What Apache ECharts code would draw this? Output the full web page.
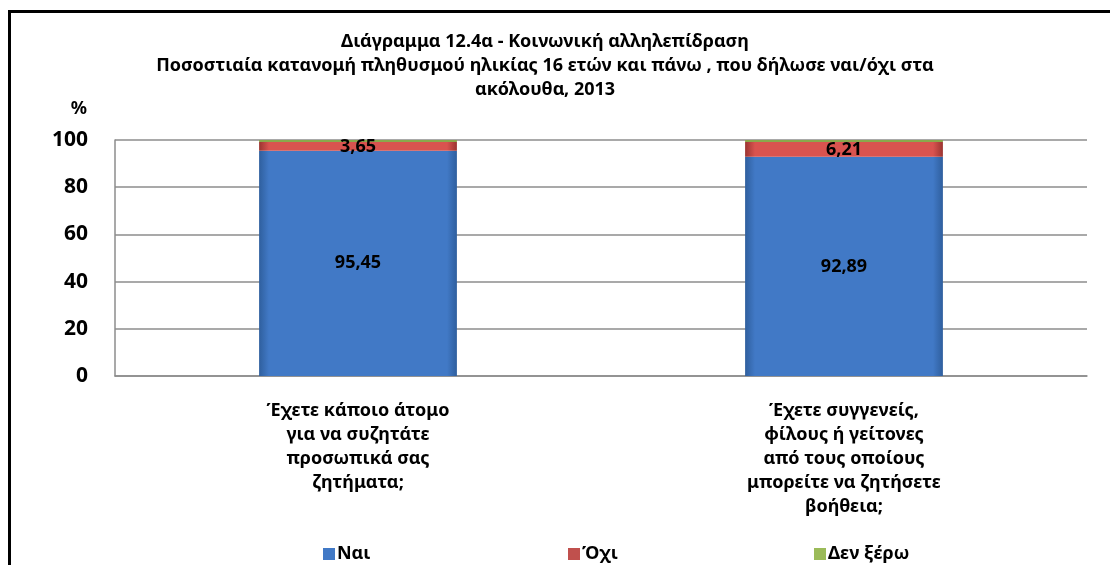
<!DOCTYPE html>
<html>
<head>
<meta charset="utf-8">
<script src="https://cdn.jsdelivr.net/npm/echarts@6/dist/echarts.min.js"></script>
<style>html,body{margin:0;padding:0;background:#fff}#c{width:1110px;height:565px}</style>
</head>
<body>
<div id="c"></div>
<script>
const titleText = 'Διάγραμμα 12.4α - Κοινωνική αλληλεπίδραση\nΠοσοστιαία κατανομή πληθυσμού ηλικίας 16 ετών και πάνω , που δήλωσε ναι/όχι στα\nακόλουθα, 2013';
const categories = [
  'Έχετε κάποιο άτομο\nγια να συζητάτε\nπροσωπικά σας\nζητήματα;',
  'Έχετε συγγενείς,\nφίλους ή γείτονες\nαπό τους οποίους\nμπορείτε να ζητήσετε\nβοήθεια;'
];
const seriesNames = ['Ναι', 'Όχι', 'Δεν ξέρω'];
const yesValues = [95.45, 92.89];
const noValues = [3.65, 6.21];
const dontKnowValues = [0.90, 0.90];
const yTicks = { min: 0, max: 100, interval: 20 };

const FONT = "'Noto Sans', 'Open Sans', sans-serif";
const fmt = p => String(p.value).replace('.', ',');

function hGrad(c0, c1, c2) {
  return new echarts.graphic.LinearGradient(0, 0, 1, 0, [
    { offset: 0, color: c0 }, { offset: 0.05, color: c1 },
    { offset: 0.95, color: c1 }, { offset: 1, color: c2 }
  ]);
}

const legendLefts = [318, 563, 809];
const legendColors = ['#4179c6', '#c0504d', '#9bbb59'];

const chart = echarts.init(document.getElementById('c'));
chart.setOption({
  animation: false,
  backgroundColor: '#fff',
  title: {
    text: titleText,
    left: 540, top: 25, textAlign: 'center',
    textStyle: { fontFamily: FONT, fontWeight: 'bold', fontSize: 18, lineHeight: 24, color: '#000' }
  },
  graphic: [{
    type: 'rect', silent: true,
    shape: { x: 9.5, y: 11.5, width: 1200, height: 700 },
    style: { fill: 'none', stroke: '#000', lineWidth: 3 }
  }],
  legend: seriesNames.map((n, i) => ({
    data: [{ name: n, itemStyle: { color: legendColors[i] } }],
    left: legendLefts[i], top: 540,
    itemWidth: 12, itemHeight: 12, itemGap: 4,
    icon: 'rect',
    textStyle: { fontFamily: FONT, fontWeight: 'bold', fontSize: 18, color: '#000', padding: [0, 0, 0, -3] }
  })),
  grid: { left: 115, right: 23, top: 140, bottom: 189 },
  xAxis: {
    type: 'category',
    data: categories,
    axisLine: { lineStyle: { color: '#8c8c8c', width: 1.5 } },
    axisTick: { show: false },
    axisLabel: {
      interval: 0, margin: 23,
      fontFamily: FONT, fontWeight: 'bold', fontSize: 18, lineHeight: 24, color: '#000', align: 'center'
    }
  },
  yAxis: {
    type: 'value',
    min: yTicks.min, max: yTicks.max, interval: yTicks.interval,
    name: '%',
    nameLocation: 'end', nameGap: 22,
    nameTextStyle: { fontFamily: FONT, fontWeight: 'bold', fontSize: 18, color: '#000', align: 'right', padding: [0, 28, 0, 0] },
    axisLine: { show: true, lineStyle: { color: '#8c8c8c', width: 1.5 } },
    axisTick: { show: false },
    splitLine: { lineStyle: { color: '#8c8c8c', width: 1.5 } },
    axisLabel: { margin: 27, fontFamily: FONT, fontWeight: 'bold', fontSize: 21, color: '#000' }
  },
  series: [
    {
      name: seriesNames[0], type: 'bar', stack: 's', data: yesValues, barWidth: '40.7%',
      itemStyle: { color: hGrad('#2f5f9e', '#4179c6', '#2f5f9e') },
      label: { show: true, position: 'inside', formatter: fmt, fontFamily: FONT, fontWeight: 'bold', fontSize: 18, color: '#000' }
    },
    {
      name: seriesNames[1], type: 'bar', stack: 's', data: noValues,
      itemStyle: { color: hGrad('#9b3431', '#d9534f', '#9b3431') },
      label: { show: true, position: 'inside', formatter: fmt, fontFamily: FONT, fontWeight: 'bold', fontSize: 18, color: '#000' }
    },
    {
      name: seriesNames[2], type: 'bar', stack: 's', data: dontKnowValues,
      itemStyle: { color: '#8aa84c' }
    }
  ]
});
</script>
</body>
</html>
